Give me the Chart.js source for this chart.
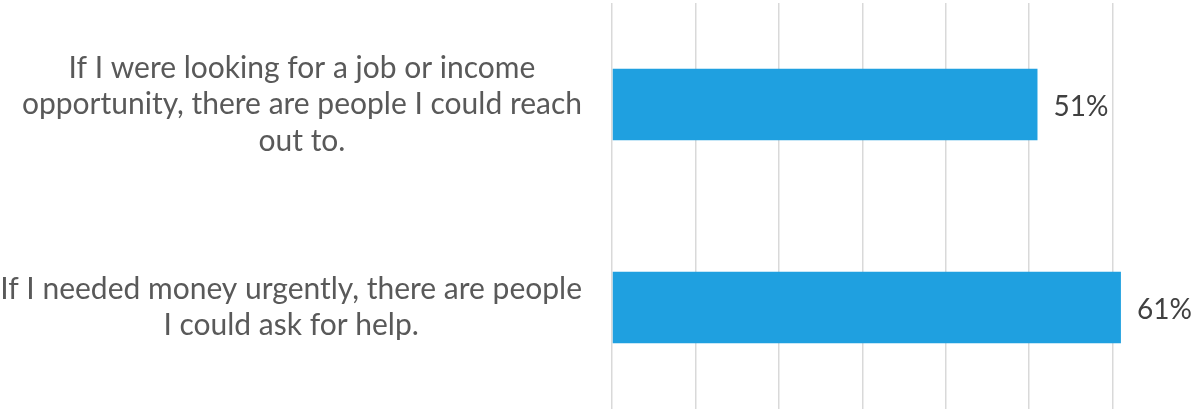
<!DOCTYPE html>
<html lang="en">
<head>
  <meta charset="UTF-8">
  <title>Personal network support</title>
  <script src="https://cdn.jsdelivr.net/npm/chart.js"></script>
  <style>
    body { margin: 0; background: #fff; font-family: Lato, sans-serif; }
    #wrap { width: 1196px; height: 411px; position: relative; }
  </style>
</head>
<body>
  <div id="wrap"><canvas id="supportChart"></canvas></div>
  <script>
    // each category label is split into the lines it is drawn on
    const categories = [
      ['If I were looking for a job or income', 'opportunity, there are people I could reach', 'out to.'],
      ['If I needed money urgently, there are people', 'I could ask for help.']
    ];
    const shares = [51, 61];
    const axisMax = 70;

    const labelFont = '30px Lato, sans-serif';
    const valueFont = '28px Lato, sans-serif';
    const lineHeight = 36.5;

    // category labels, each block centered on its own widest line
    const categoryLabels = {
      id: 'categoryLabels',
      afterDraw(chart) {
        const ctx = chart.ctx;
        const yScale = chart.scales.y;
        const right = chart.chartArea.left - 30;
        ctx.save();
        ctx.font = labelFont;
        ctx.fillStyle = '#595959';
        ctx.textAlign = 'center';
        ctx.textBaseline = 'middle';
        categories.forEach((lines, i) => {
          const cy = yScale.getPixelForValue(i);
          const widest = Math.max(...lines.map(l => ctx.measureText(l).width));
          const cx = right - widest / 2;
          lines.forEach((line, j) => {
            ctx.fillText(line, cx, cy + (j - (lines.length - 1) / 2) * lineHeight);
          });
        });
        ctx.restore();
      }
    };

    // percentage printed just past the end of each bar
    const valueLabels = {
      id: 'valueLabels',
      afterDatasetsDraw(chart) {
        const ctx = chart.ctx;
        const xScale = chart.scales.x;
        const yScale = chart.scales.y;
        ctx.save();
        ctx.font = valueFont;
        ctx.fillStyle = '#404040';
        ctx.textAlign = 'left';
        ctx.textBaseline = 'middle';
        shares.forEach((v, i) => {
          ctx.fillText(v + '%', xScale.getPixelForValue(v) + 16, yScale.getPixelForValue(i) + 2);
        });
        ctx.restore();
      }
    };

    new Chart(document.getElementById('supportChart'), {
      type: 'bar',
      data: {
        labels: categories,
        datasets: [{
          data: shares,
          backgroundColor: '#1fa0e0',
          categoryPercentage: 1,
          barPercentage: 0.352
        }]
      },
      options: {
        indexAxis: 'y',
        responsive: true,
        maintainAspectRatio: false,
        animation: false,
        layout: { padding: { top: 3, bottom: 2, left: 0, right: 0 } },
        plugins: { legend: { display: false }, tooltip: { enabled: false } },
        scales: {
          x: {
            min: 0,
            max: axisMax,
            ticks: { display: false, stepSize: 10 },
            border: { display: false },
            grid: {
              drawTicks: false,
              lineWidth: 1.5,
              color: c => (c.tick && c.tick.value === axisMax ? 'rgba(0,0,0,0)' : '#d9d9d9')
            }
          },
          y: {
            ticks: { display: false },
            border: { display: false },
            grid: { display: false },
            afterFit(scale) { scale.width = 612; }
          }
        }
      },
      plugins: [categoryLabels, valueLabels]
    });
  </script>
</body>
</html>
